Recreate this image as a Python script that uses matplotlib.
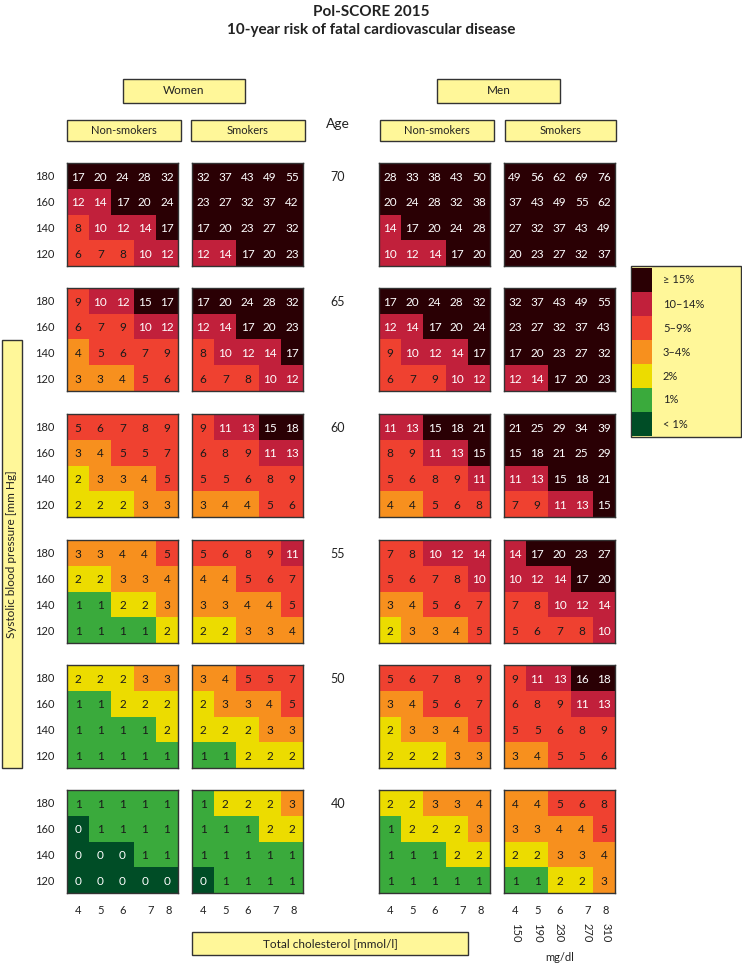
import matplotlib
matplotlib.use("Agg")
import matplotlib.pyplot as plt
from matplotlib.colors import ListedColormap, BoundaryNorm
from matplotlib.patches import Rectangle
import numpy as np

plt.rcParams['font.family'] = ['Lato', 'DejaVu Sans']

# rows: SBP 180, 160, 140, 120 ; cols: cholesterol 4..8 mmol/l
ages = [70, 65, 60, 55, 50, 40]
sbp_labels = ['180', '160', '140', '120']
chol_mmol = ['4', '5', '6', '7', '8']
chol_mgdl = ['150', '190', '230', '270', '310']

women_nonsmokers = [
    [[17, 20, 24, 28, 32], [12, 14, 17, 20, 24], [8, 10, 12, 14, 17], [6, 7, 8, 10, 12]],
    [[9, 10, 12, 15, 17], [6, 7, 9, 10, 12], [4, 5, 6, 7, 9], [3, 3, 4, 5, 6]],
    [[5, 6, 7, 8, 9], [3, 4, 5, 5, 7], [2, 3, 3, 4, 5], [2, 2, 2, 3, 3]],
    [[3, 3, 4, 4, 5], [2, 2, 3, 3, 4], [1, 1, 2, 2, 3], [1, 1, 1, 1, 2]],
    [[2, 2, 2, 3, 3], [1, 1, 2, 2, 2], [1, 1, 1, 1, 2], [1, 1, 1, 1, 1]],
    [[1, 1, 1, 1, 1], [0, 1, 1, 1, 1], [0, 0, 0, 1, 1], [0, 0, 0, 0, 0]],
]
women_smokers = [
    [[32, 37, 43, 49, 55], [23, 27, 32, 37, 42], [17, 20, 23, 27, 32], [12, 14, 17, 20, 23]],
    [[17, 20, 24, 28, 32], [12, 14, 17, 20, 23], [8, 10, 12, 14, 17], [6, 7, 8, 10, 12]],
    [[9, 11, 13, 15, 18], [6, 8, 9, 11, 13], [5, 5, 6, 8, 9], [3, 4, 4, 5, 6]],
    [[5, 6, 8, 9, 11], [4, 4, 5, 6, 7], [3, 3, 4, 4, 5], [2, 2, 3, 3, 4]],
    [[3, 4, 5, 5, 7], [2, 3, 3, 4, 5], [2, 2, 2, 3, 3], [1, 1, 2, 2, 2]],
    [[1, 2, 2, 2, 3], [1, 1, 1, 2, 2], [1, 1, 1, 1, 1], [0, 1, 1, 1, 1]],
]
men_nonsmokers = [
    [[28, 33, 38, 43, 50], [20, 24, 28, 32, 38], [14, 17, 20, 24, 28], [10, 12, 14, 17, 20]],
    [[17, 20, 24, 28, 32], [12, 14, 17, 20, 24], [9, 10, 12, 14, 17], [6, 7, 9, 10, 12]],
    [[11, 13, 15, 18, 21], [8, 9, 11, 13, 15], [5, 6, 8, 9, 11], [4, 4, 5, 6, 8]],
    [[7, 8, 10, 12, 14], [5, 6, 7, 8, 10], [3, 4, 5, 6, 7], [2, 3, 3, 4, 5]],
    [[5, 6, 7, 8, 9], [3, 4, 5, 6, 7], [2, 3, 3, 4, 5], [2, 2, 2, 3, 3]],
    [[2, 2, 3, 3, 4], [1, 2, 2, 2, 3], [1, 1, 1, 2, 2], [1, 1, 1, 1, 1]],
]
men_smokers = [
    [[49, 56, 62, 69, 76], [37, 43, 49, 55, 62], [27, 32, 37, 43, 49], [20, 23, 27, 32, 37]],
    [[32, 37, 43, 49, 55], [23, 27, 32, 37, 43], [17, 20, 23, 27, 32], [12, 14, 17, 20, 23]],
    [[21, 25, 29, 34, 39], [15, 18, 21, 25, 29], [11, 13, 15, 18, 21], [7, 9, 11, 13, 15]],
    [[14, 17, 20, 23, 27], [10, 12, 14, 17, 20], [7, 8, 10, 12, 14], [5, 6, 7, 8, 10]],
    [[9, 11, 13, 16, 18], [6, 8, 9, 11, 13], [5, 5, 6, 8, 9], [3, 4, 5, 5, 6]],
    [[4, 4, 5, 6, 8], [3, 3, 4, 4, 5], [2, 2, 3, 3, 4], [1, 1, 2, 2, 3]],
]

legend_labels = ['≥ 15%', '10–14%', '5–9%', '3–4%', '2%', '1%', '< 1%']
risk_colors = ['#004d26', '#3aaa3c', '#ecdc00', '#f7901e', '#ef4130', '#c1203b', '#2a0004']
bounds = [-0.5, 0.5, 1.5, 2.5, 4.5, 9.5, 14.5, 100]
cmap = ListedColormap(risk_colors)
norm = BoundaryNorm(bounds, cmap.N)

W, H = 742, 965
fig = plt.figure(figsize=(W / 100, H / 100), dpi=100)
YELLOW = '#fff799'


def fx(x):
    return x / W


def fy(y):
    return 1 - y / H


def label_box(x, y, w, h, text, size=8.5, rotation=0):
    fig.add_artist(Rectangle((fx(x), fy(y + h)), w / W, h / H, transform=fig.transFigure,
                             facecolor=YELLOW, edgecolor='#333333', linewidth=1))
    fig.text(fx(x + w / 2), fy(y + h / 2), text, ha='center', va='center',
             fontsize=size, rotation=rotation, color='#222222')


# title
fig.text(0.5, fy(12), 'Pol-SCORE 2015', ha='center', va='center', fontsize=11, weight='bold', color='#222222')
fig.text(0.5, fy(30), '10-year risk of fatal cardiovascular disease', ha='center', va='center',
         fontsize=11, weight='bold', color='#222222')

label_box(123, 79, 122, 24, 'Women')
label_box(437, 79, 123, 24, 'Men')
label_box(67, 120, 114, 21, 'Non-smokers', 8)
label_box(191, 120, 114, 21, 'Smokers', 8)
label_box(380, 120, 114, 21, 'Non-smokers', 8)
label_box(505, 120, 111, 21, 'Smokers', 8)
fig.text(fx(338), fy(124), 'Age', ha='center', va='center', fontsize=10, color='#222222')

label_box(2, 340, 20, 428, 'Systolic blood pressure [mm Hg]', 8.5, rotation=90)
label_box(192, 932, 276, 23, 'Total cholesterol [mmol/l]', 8.5)

panel_x = [67, 192, 379, 504]
panel_w = 111
panel_h = 103
panel_tops = [163, 288, 414, 540, 665, 790]
groups = [women_nonsmokers, women_smokers, men_nonsmokers, men_smokers]
xtick_pos = [0.5, 1.5, 2.5, 3.75, 4.6]

for r, age in enumerate(ages):
    top = panel_tops[r]
    fig.text(fx(338), fy(top + 14), str(age), ha='center', va='center', fontsize=9, color='#222222')
    for g, data in enumerate(groups):
        vals = np.array(data[r])
        ax = fig.add_axes([fx(panel_x[g]), fy(top + panel_h), panel_w / W, panel_h / H])
        ax.pcolormesh(vals, cmap=cmap, norm=norm)
        ax.set_xlim(0, 5)
        ax.set_ylim(4, 0)
        for i in range(vals.shape[0]):
            for j in range(vals.shape[1]):
                v = vals[i, j]
                light = v >= 10 or v == 0
                ax.text(j + 0.5, i + 0.55, str(v), ha='center', va='center', fontsize=8.5,
                        color='white' if light else '#1a1a1a')
        for s in ax.spines.values():
            s.set_color('#333333')
            s.set_linewidth(1)
        ax.tick_params(length=0, labelsize=8, labelcolor='#222222')
        if g == 0:
            ax.set_yticks(np.arange(4) + 0.5, sbp_labels)
            ax.tick_params(axis='y', pad=9)
        else:
            ax.set_yticks([])
        if r == len(ages) - 1:
            ax.set_xticks(xtick_pos, chol_mmol)
            ax.tick_params(axis='x', pad=9)
            if g == 3:
                for j, lab in enumerate(chol_mgdl):
                    ax.text(xtick_pos[j], 5.55, lab, rotation=270, ha='center', va='center',
                            fontsize=8, color='#222222', clip_on=False)
                ax.text(2.5, 6.5, 'mg/dl', ha='center', va='center', fontsize=8,
                        color='#222222', clip_on=False)
        else:
            ax.set_xticks([])

# legend
leg_x, leg_y, leg_w, leg_h = 631, 266, 110, 171
fig.add_artist(Rectangle((fx(leg_x), fy(leg_y + leg_h)), leg_w / W, leg_h / H, transform=fig.transFigure,
                         facecolor=YELLOW, edgecolor='#333333', linewidth=1))
sw_h = 24
for k, lab in enumerate(legend_labels):
    color = risk_colors[len(risk_colors) - 1 - k]
    y0 = leg_y + 2 + k * sw_h
    fig.add_artist(Rectangle((fx(leg_x + 1), fy(y0 + sw_h)), 20 / W, sw_h / H, transform=fig.transFigure,
                             facecolor=color, edgecolor='none'))
    fig.text(fx(leg_x + 32), fy(y0 + sw_h / 2), lab, ha='left', va='center', fontsize=8, color='#222222')

fig.savefig('out.png', dpi=100)
